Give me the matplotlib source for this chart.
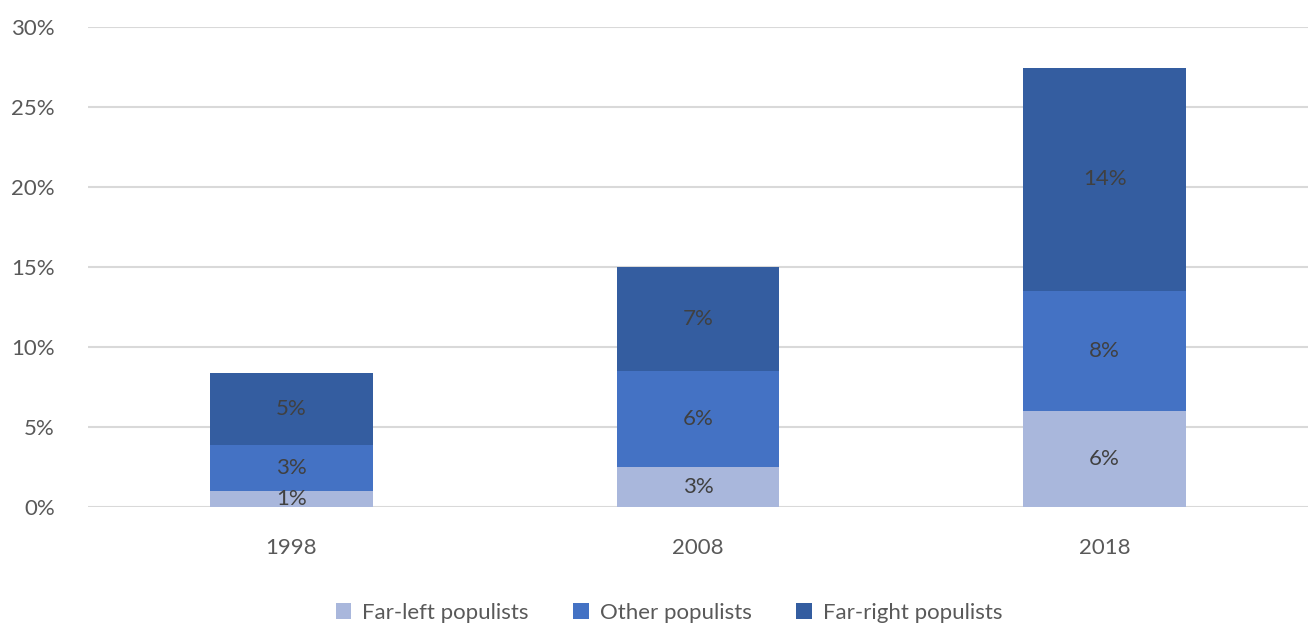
import matplotlib
matplotlib.use("Agg")
import matplotlib.pyplot as plt
import numpy as np

years = ["1998", "2008", "2018"]
far_left = [1.0, 2.5, 6.0]
other = [2.9, 6.0, 7.5]
far_right = [4.5, 6.5, 13.95]
series_names = ["Far-left populists", "Other populists", "Far-right populists"]
colors = ["#A9B7DC", "#4472C4", "#345DA0"]
yticks = [0, 5, 10, 15, 20, 25, 30]

plt.rcParams['font.family'] = ['Lato', 'DejaVu Sans']
FS = 16

fig = plt.figure(figsize=(13.08, 6.30), dpi=100)
ax = fig.add_axes([88/1308, 1-507/630, 1-88/1308, 480/630])

x = np.arange(len(years))
bottom = np.zeros(len(years))
handles = []
for vals, name, col in zip([far_left, other, far_right], series_names, colors):
    vals = np.array(vals)
    b = ax.bar(x, vals, width=0.4, bottom=bottom, color=col, label=name, zorder=3)
    handles.append(b)
    for xi, v, bt in zip(x, vals, bottom):
        ax.text(xi, bt + v/2, f"{int(np.floor(v+0.5))}%", ha='center', va='center',
                fontsize=FS, color='#404040', zorder=4)
    bottom = bottom + vals

ax.set_xlim(-0.5, 2.5)
ax.set_ylim(0, 30)
ax.set_yticks(yticks)
ax.set_yticklabels([f"{t}%" for t in yticks])
ax.set_xticks(x)
ax.set_xticklabels(years)
ax.tick_params(axis='both', length=0, labelsize=FS, labelcolor='#595959')
ax.tick_params(axis='y', pad=24)
ax.tick_params(axis='x', pad=22)
ax.grid(axis='y', color='#D9D9D9', linewidth=1.5, zorder=0)
for s in ax.spines.values():
    s.set_visible(False)

fig.legend(handles=handles, loc='center', bbox_to_anchor=(669/1308, 1-613/630), ncol=3,
           frameon=False, fontsize=FS, labelcolor='#595959', handlelength=0.7,
           handleheight=0.7, handletextpad=0.5, columnspacing=2.0)

fig.savefig("out.png", dpi=100)
